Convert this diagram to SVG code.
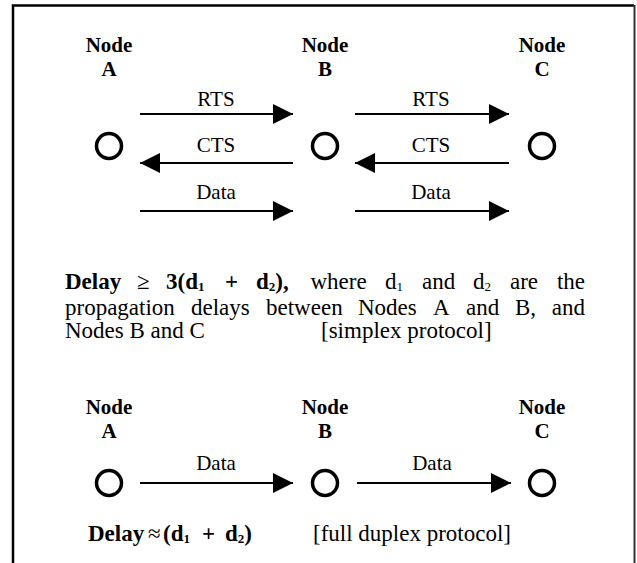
<svg xmlns="http://www.w3.org/2000/svg" width="637" height="563" viewBox="0 0 637 563">
  <style>
    text { font-family: "Liberation Serif", "Times New Roman", serif; fill: #000; }
    .lbl { font-size: 21px; font-weight: bold; text-anchor: middle; }
    .edge { font-size: 21px; text-anchor: middle; }
    .body { font-size: 23px; }
    .b { font-weight: bold; }
    .sub { font-size: 13px; }
    .node { fill: none; stroke: #000; stroke-width: 3.5; }
    .wire { stroke: #000; stroke-width: 2; fill: none; }
    .frame { fill: none; stroke: #000; stroke-width: 2.5; }
    .frame-r { fill: none; stroke: #333; stroke-width: 2; }
  </style>
  <defs>
    <marker id="head" markerUnits="userSpaceOnUse" markerWidth="21" markerHeight="21" refX="20" refY="10" orient="auto">
      <path d="M0,0 L20,10 L0,20 Z" fill="#000"/>
    </marker>
  </defs>

  <rect id="paper" x="0" y="0" width="637" height="563" fill="#fff"/>
  <!-- open frame: left side and top in black, right side slightly lighter -->
  <path class="frame" d="M13,563 V5.5 H634"/>
  <path class="frame-r" d="M634.5,5 V563"/>

  <!-- simplex (RTS/CTS) exchange -->
  <g id="nodeA1">
    <text class="lbl" x="109" y="52">Node</text>
    <text class="lbl" x="109" y="76">A</text>
    <circle class="node" cx="109" cy="146" r="12.5"/>
  </g>
  <g id="nodeB1">
    <text class="lbl" x="325" y="52">Node</text>
    <text class="lbl" x="325" y="76">B</text>
    <circle class="node" cx="325" cy="146" r="12.5"/>
  </g>
  <g id="nodeC1">
    <text class="lbl" x="542" y="52">Node</text>
    <text class="lbl" x="542" y="76">C</text>
    <circle class="node" cx="542" cy="146" r="12.5"/>
  </g>

  <g id="connectors">
    <line class="wire" x1="140" y1="114" x2="293" y2="114" marker-end="url(#head)"/>
    <line class="wire" x1="293" y1="163" x2="140" y2="163" marker-end="url(#head)"/>
    <line class="wire" x1="140" y1="211" x2="293" y2="211" marker-end="url(#head)"/>
    <line class="wire" x1="355" y1="114" x2="509" y2="114" marker-end="url(#head)"/>
    <line class="wire" x1="509" y1="163" x2="355" y2="163" marker-end="url(#head)"/>
    <line class="wire" x1="355" y1="211" x2="509" y2="211" marker-end="url(#head)"/>
    <line class="wire" x1="140" y1="483" x2="293" y2="483" marker-end="url(#head)"/>
    <line class="wire" x1="357" y1="483" x2="511" y2="483" marker-end="url(#head)"/>
    <text class="edge" x="216" y="106">RTS</text>
    <text class="edge" x="216" y="152">CTS</text>
    <text class="edge" x="216" y="199">Data</text>
    <text class="edge" x="431" y="106">RTS</text>
    <text class="edge" x="431" y="152">CTS</text>
    <text class="edge" x="431" y="199">Data</text>
    <text class="edge" x="216" y="470">Data</text>
    <text class="edge" x="432" y="470">Data</text>
  </g>

  <!-- simplex delay note, justified between x=65 and x=585 -->
  <g id="simplexNote" class="body">
    <text y="289"><tspan class="b" x="65">Delay</tspan><tspan x="137">≥</tspan><tspan class="b" x="166">3(d</tspan><tspan class="b sub" dy="2">1</tspan><tspan class="b" x="225" dy="-2">+</tspan><tspan class="b" x="256">d</tspan><tspan class="b sub" dy="2">2</tspan><tspan class="b" dy="-2">),</tspan><tspan x="310.5">where</tspan><tspan x="385">d</tspan><tspan class="sub" dy="2">1</tspan><tspan x="422" dy="-2">and</tspan><tspan x="473">d</tspan><tspan class="sub" dy="2">2</tspan><tspan x="510" dy="-2">are</tspan><tspan x="585" text-anchor="end">the</tspan></text>
    <text y="315"><tspan x="65">propagation</tspan><tspan x="191">delays</tspan><tspan x="266">between</tspan><tspan x="358">Nodes</tspan><tspan x="433">A</tspan><tspan x="466">and</tspan><tspan x="515">B,</tspan><tspan x="585" text-anchor="end">and</tspan></text>
    <text y="338"><tspan x="65">Nodes B and C</tspan><tspan x="321">[simplex protocol]</tspan></text>
  </g>

  <!-- full duplex exchange -->
  <g id="nodeA2">
    <text class="lbl" x="109" y="414">Node</text>
    <text class="lbl" x="109" y="438">A</text>
    <circle class="node" cx="109" cy="483" r="12.5"/>
  </g>
  <g id="nodeB2">
    <text class="lbl" x="325" y="414">Node</text>
    <text class="lbl" x="325" y="438">B</text>
    <circle class="node" cx="325" cy="483" r="12.5"/>
  </g>
  <g id="nodeC2">
    <text class="lbl" x="542" y="414">Node</text>
    <text class="lbl" x="542" y="438">C</text>
    <circle class="node" cx="542" cy="483" r="12.5"/>
  </g>

  <g id="duplexNote" class="body">
    <text y="541"><tspan class="b" x="88">Delay</tspan><tspan x="148">≈</tspan><tspan class="b" x="163">(d</tspan><tspan class="b sub" dy="2">1</tspan><tspan class="b" x="202" dy="-2">+</tspan><tspan class="b" x="225">d</tspan><tspan class="b sub" dy="2">2</tspan><tspan class="b" dy="-2">)</tspan><tspan x="313">[full duplex protocol]</tspan></text>
  </g>
</svg>
